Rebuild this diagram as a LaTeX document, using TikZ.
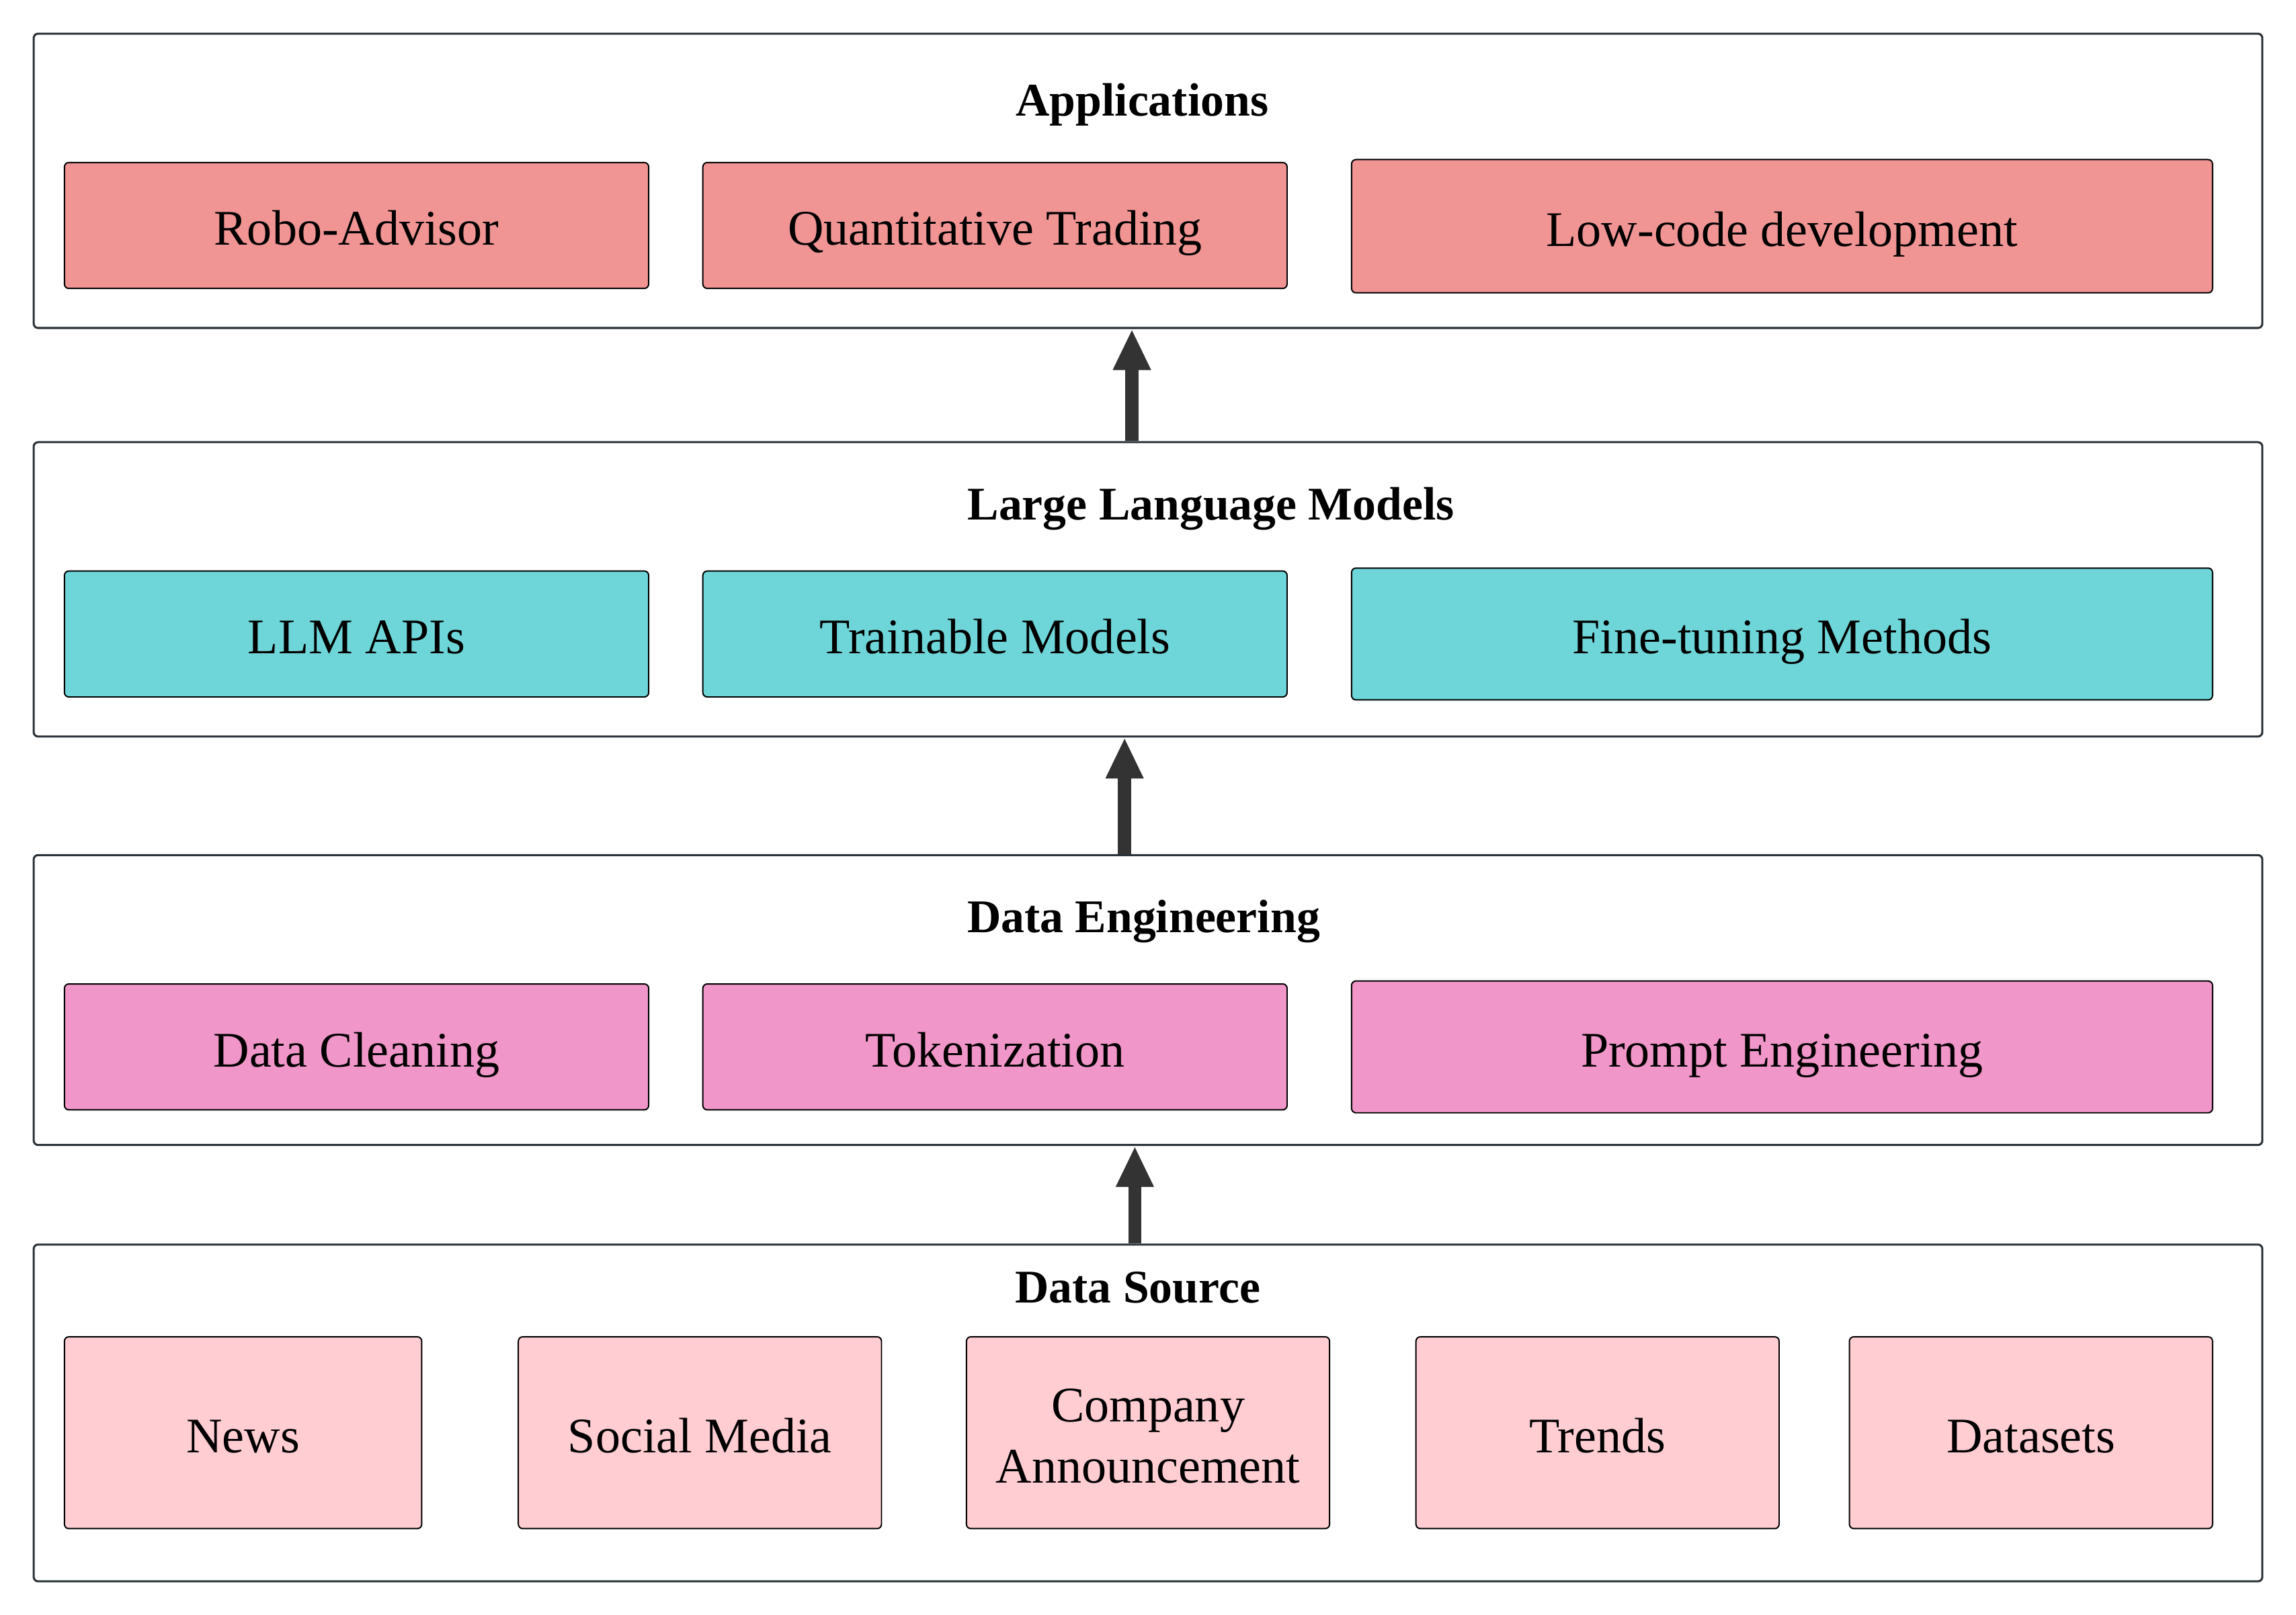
\documentclass[tikz,border=0pt]{standalone}
\usepackage{fontspec}
\setmainfont{Liberation Serif}
\usetikzlibrary{arrows.meta}
\definecolor{framec}{HTML}{2B3238}
\definecolor{appc}{HTML}{F09494}
\definecolor{llmc}{HTML}{6ED6D8}
\definecolor{dec}{HTML}{F096C8}
\definecolor{dsc}{HTML}{FFCDD2}
\definecolor{arrc}{HTML}{333333}
\tikzset{
  layer/.style={draw=framec, line width=1.4pt, rounded corners=3pt, fill=white, inner sep=0pt},
  item/.style={draw=black, line width=0.9pt, rounded corners=3pt, inner sep=0pt, align=center,
    font=\fontsize{34}{42}\selectfont},
  one/.style={text height=30pt, text depth=3pt},
  ttl/.style={font=\fontsize{32}{38}\selectfont\bfseries, inner sep=0pt, text height=28pt, text depth=2pt},
  arr/.style={draw=arrc, line width=9pt, -{Triangle[width=24pt,length=28pt]}, color=arrc},
}
\begin{document}
\begin{tikzpicture}[x=1pt,y=-1pt]
\useasboundingbox[fill=white] (0,0) rectangle (1568,1103);
% containers
\node[layer, minimum width=1522pt, minimum height=201pt] (app) at (784,123.5) {};
\node[layer, minimum width=1522pt, minimum height=201pt] (llm) at (784,402.5) {};
\node[layer, minimum width=1522pt, minimum height=198pt] (de) at (784,683) {};
\node[layer, minimum width=1522pt, minimum height=230pt] (ds) at (784,965) {};
% titles
\node[ttl] (appt) at (780,66) {Applications};
\node[ttl] (llmt) at (827,342) {Large Language Models};
\node[ttl] (det) at (781,624) {Data Engineering};
\node[ttl] (dst) at (777,877) {Data Source};
% applications
\node[item, one, fill=appc, minimum width=399pt, minimum height=86pt] (robo) at (243.5,154) {Robo-Advisor};
\node[item, one, fill=appc, minimum width=399pt, minimum height=86pt] (quant) at (679.5,154) {Quantitative Trading};
\node[item, one, fill=appc, minimum width=588pt, minimum height=91pt] (lowc) at (1217,154.5) {Low-code development};
% LLM
\node[item, one, fill=llmc, minimum width=399pt, minimum height=86pt] (apis) at (243.5,433) {LLM APIs};
\node[item, one, fill=llmc, minimum width=399pt, minimum height=86pt] (train) at (679.5,433) {Trainable Models};
\node[item, one, fill=llmc, minimum width=588pt, minimum height=90pt] (fine) at (1217,433) {Fine-tuning Methods};
% Data engineering
\node[item, one, fill=dec, minimum width=399pt, minimum height=86pt] (clean) at (243.5,715) {Data Cleaning};
\node[item, one, fill=dec, minimum width=399pt, minimum height=86pt] (tok) at (679.5,715) {Tokenization};
\node[item, one, fill=dec, minimum width=588pt, minimum height=90pt] (prompt) at (1217,715) {Prompt Engineering};
% Data source
\node[item, one, fill=dsc, minimum width=244pt, minimum height=131pt] (news) at (166,978.5) {News};
\node[item, one, fill=dsc, minimum width=248pt, minimum height=131pt] (social) at (478,978.5) {Social Media};
\node[item, fill=dsc, minimum width=248pt, minimum height=131pt, text height=72pt, text depth=3pt] (comp) at (784,978.5) {Company\\Announcement};
\node[item, one, fill=dsc, minimum width=248pt, minimum height=131pt] (trends) at (1091,978.5) {Trends};
\node[item, one, fill=dsc, minimum width=248pt, minimum height=131pt] (data) at (1387,978.5) {Datasets};
% arrows
\coordinate (xa) at (773,0);
\coordinate (xb) at (768,0);
\coordinate (xc) at (775,0);
\draw[arr] (xa |- llm.north) -- (xa |- app.south);
\draw[arr] (xb |- de.north) -- (xb |- llm.south);
\draw[arr] (xc |- ds.north) -- (xc |- de.south);
\end{tikzpicture}
\end{document}
